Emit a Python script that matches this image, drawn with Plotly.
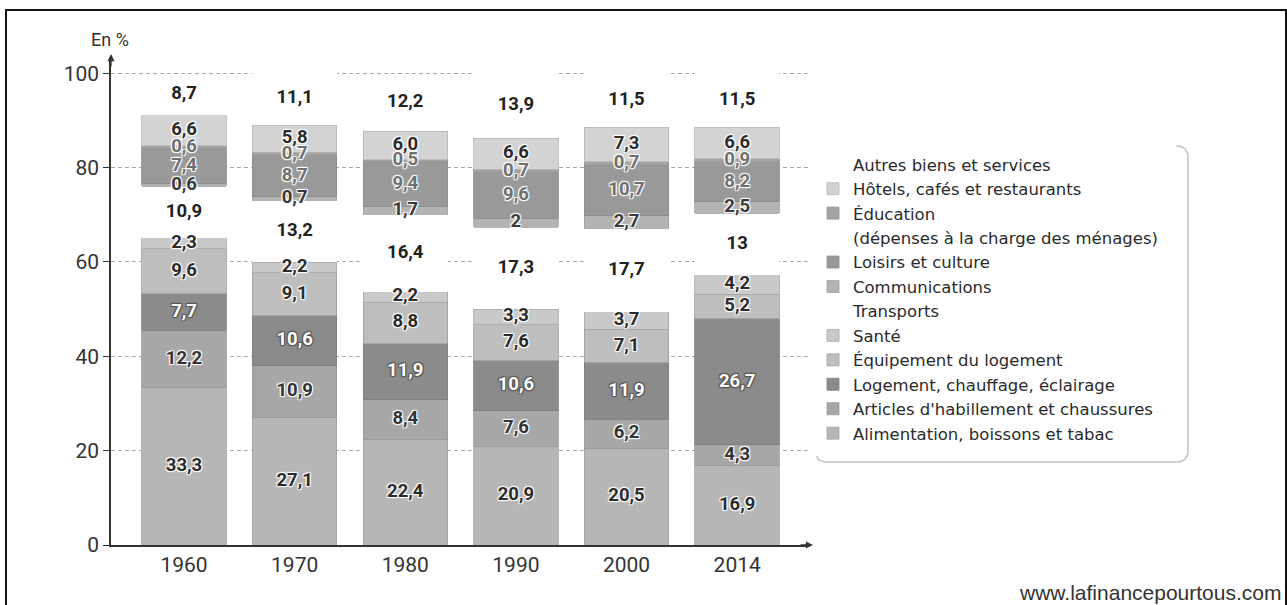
import plotly.graph_objects as go

# ---------------- data ----------------
YEARS = ["1960", "1970", "1980", "1990", "2000", "2014"]

ALIMENTATION = [33.3, 27.1, 22.4, 20.9, 20.5, 16.9]
HABILLEMENT = [12.2, 10.9, 8.4, 7.6, 6.2, 4.3]
LOGEMENT = [7.7, 10.6, 11.9, 10.6, 11.9, 26.7]
EQUIPEMENT = [9.6, 9.1, 8.8, 7.6, 7.1, 5.2]
SANTE = [2.3, 2.2, 2.2, 3.3, 3.7, 4.2]
TRANSPORTS = [10.9, 13.2, 16.4, 17.3, 17.7, 13]
COMMUNICATIONS = [0.6, 0.7, 1.7, 2, 2.7, 2.5]
LOISIRS = [7.4, 8.7, 9.4, 9.6, 10.7, 8.2]
EDUCATION = [0.6, 0.7, 0.5, 0.7, 0.7, 0.9]
HOTELS = [6.6, 5.8, 6.0, 6.6, 7.3, 6.6]
AUTRES = [8.7, 11.1, 12.2, 13.9, 11.5, 11.5]

SERIES_NAMES = [
    "Alimentation, boissons et tabac",
    "Articles d'habillement et chaussures",
    "Logement, chauffage, éclairage",
    "Équipement du logement",
    "Santé",
    "Transports",
    "Communications",
    "Loisirs et culture",
    "Éducation",
    "Hôtels, cafés et restaurants",
    "Autres biens et services",
]
EDUCATION_NOTE = "(dépenses à la charge des ménages)"
SERIES_VALUES = [ALIMENTATION, HABILLEMENT, LOGEMENT, EQUIPEMENT, SANTE,
                 TRANSPORTS, COMMUNICATIONS, LOISIRS, EDUCATION, HOTELS, AUTRES]

Y_TICKS = [0, 20, 40, 60, 80, 100]

# ---------------- styles ----------------
FILLS = ["#b6b6b6", "#a7a7a7", "#8b8b8b", "#bebebe", "#c9c9c9", "#ffffff",
         "#b3b3b3", "#999999", "#a3a3a3", "#d3d3d3", "#ffffff"]
LINES = ["#a2a2a2", "#989898", "#7d7d7d", "#9e9e9e", "#a8a8a8", "#ffffff",
         "#a0a0a0", "#8a8a8a", "#939393", "#b8b8b8", "#ffffff"]
LABEL_COLORS = ["#2b2b2b", "#333333", "#ffffff", "#2b2b2b", "#2b2b2b", "#222222",
                "#3a3a3a", "#6f6f6f", "#6f6f6f", "#2b2b2b", "#222222"]
HALO_WHITE = "1px 1px 1px #fff, -1px -1px 1px #fff, 1px -1px 1px #fff, -1px 1px 1px #fff"
HALO_DARK = "1px 1px 1px #555, -1px -1px 1px #555, 1px -1px 1px #555, -1px 1px 1px #555"

FONT = "Roboto"
LEGEND_FONT = "DejaVu Sans"
W, H = 1287, 605
L, R, T, B = 111, 479, 59, 60
PW, PH = W - L - R, H - T - B


def px(xp):
    return (xp - L) / PW


def py(yp):
    return (H - B - yp) / PH


def fmt(v):
    if isinstance(v, int):
        return str(v)
    return f"{v:.1f}".replace(".", ",")


fig = go.Figure()

for name, vals, fill, line in zip(SERIES_NAMES, SERIES_VALUES, FILLS, LINES):
    if name == "Éducation":
        # second legend line of the Éducation entry (no swatch)
        fig.add_trace(go.Bar(
            x=YEARS[:1], y=[0], name=EDUCATION_NOTE,
            marker=dict(color="#ffffff", line=dict(width=0)),
            hoverinfo="skip",
        ))
    fig.add_trace(go.Bar(
        x=YEARS, y=vals, name=name,
        marker=dict(color=fill, line=dict(color=line, width=0 if fill == "#ffffff" else 0.8)),
        hoverinfo="skip",
    ))

# labels at segment centres
base = [0.0] * len(YEARS)
for vals, col in zip(SERIES_VALUES, LABEL_COLORS):
    mids = [b + v / 2 for b, v in zip(base, vals)]
    fig.add_trace(go.Scatter(
        x=YEARS, y=mids, mode="text", text=[fmt(v) for v in vals],
        textfont=dict(family=FONT, size=18.5, color=col, weight="bold",
                      shadow=HALO_DARK if col == "#ffffff" else HALO_WHITE),
        showlegend=False, hoverinfo="skip", cliponaxis=False,
    ))
    base = [b + v for b, v in zip(base, vals)]

fig.update_layout(
    width=W, height=H,
    margin=dict(l=L, r=R, t=T, b=B),
    barmode="stack", bargap=0.236,
    plot_bgcolor="white", paper_bgcolor="white",
    font=dict(family=FONT, color="#333333"),
    legend=dict(
        traceorder="reversed",
        x=px(813), xanchor="left", y=py(147), yanchor="top",
        font=dict(family=LEGEND_FONT, size=16.5, color="#2a2a2a"),
        bgcolor="rgba(0,0,0,0)", tracegroupgap=0,
        itemclick=False,
    ),
    xaxis=dict(
        type="category", range=[-0.66, 5.64],
        showline=True, linecolor="#333333", linewidth=1.5,
        ticks="", tickfont=dict(family=FONT, size=21, color="#333333"),
        showgrid=False, zeroline=False,
    ),
    yaxis=dict(
        range=[0, 103], tickvals=Y_TICKS,
        showline=True, linecolor="#333333", linewidth=1.5,
        ticks="outside", ticklen=6, tickcolor="#333333", tickwidth=1.2,
        tickfont=dict(family=FONT, size=21, color="#333333"),
        showgrid=True, gridcolor="#a8a8a8", gridwidth=1, griddash="4px,3px",
        zeroline=False,
    ),
)

# axis arrows
fig.add_annotation(x=0, y=py(54), xref="paper", yref="paper", ax=0, ay=14,
                   text="", showarrow=True, arrowhead=2, arrowsize=1.1,
                   arrowwidth=1.3, arrowcolor="#333333")
fig.add_annotation(x=px(813), y=0, xref="paper", yref="paper", ax=-14, ay=0,
                   text="", showarrow=True, arrowhead=2, arrowsize=1.1,
                   arrowwidth=1.3, arrowcolor="#333333")

# axis title
fig.add_annotation(x=px(110), y=py(40), xref="paper", yref="paper",
                   xanchor="center", yanchor="middle",
                   text="En %", showarrow=False,
                   font=dict(family=FONT, size=18, color="#333333"))

# source
fig.add_annotation(x=px(1283), y=py(592), xref="paper", yref="paper",
                   xanchor="right", yanchor="middle",
                   text="www.lafinancepourtous.com", showarrow=False,
                   font=dict(family="Liberation Sans, Arial", size=21, color="#333333"))

# legend box (rounded right side)
x0, x1, y0, y1, r = 817, 1188, 146, 462, 12
path = (f"M {px(x1 - r)},{py(y0)} Q {px(x1)},{py(y0)} {px(x1)},{py(y0 + r)} "
        f"L {px(x1)},{py(y1 - r)} Q {px(x1)},{py(y1)} {px(x1 - r)},{py(y1)} "
        f"L {px(x0 + r)},{py(y1)} Q {px(x0)},{py(y1)} {px(x0)},{py(y1 - 6)}")
fig.add_shape(type="path", path=path, xref="paper", yref="paper",
              line=dict(color="#c4c4c4", width=1.5))

# outer frame
fig.add_shape(type="rect", xref="paper", yref="paper",
              x0=px(6), x1=px(1286), y0=py(620), y1=py(10),
              line=dict(color="#111111", width=2))

fig.write_html("out.html", post_script="document.body.style.margin='0';",
               config={"displayModeBar": False})
